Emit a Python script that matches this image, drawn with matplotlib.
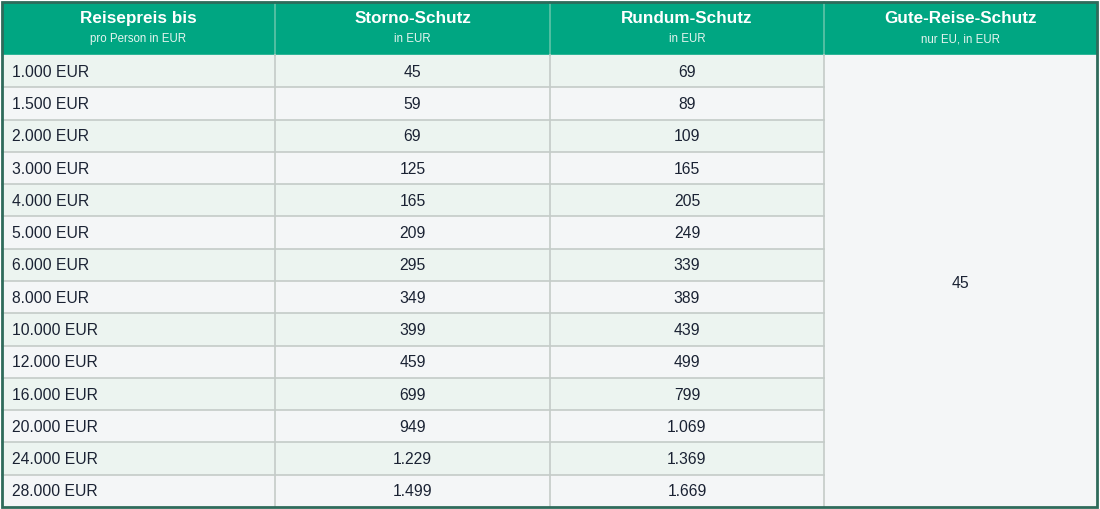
import matplotlib
matplotlib.use("Agg")
import matplotlib.pyplot as plt
from matplotlib.patches import Rectangle

headers = ["Reisepreis bis", "Storno-Schutz", "Rundum-Schutz", "Gute-Reise-Schutz"]
subheaders = ["pro Person in EUR", "in EUR", "in EUR", "nur EU, in EUR"]
preis = ["1.000 EUR","1.500 EUR","2.000 EUR","3.000 EUR","4.000 EUR","5.000 EUR","6.000 EUR",
         "8.000 EUR","10.000 EUR","12.000 EUR","16.000 EUR","20.000 EUR","24.000 EUR","28.000 EUR"]
storno = ["45","59","69","125","165","209","295","349","399","459","699","949","1.229","1.499"]
rundum = ["69","89","109","165","205","249","339","389","439","499","799","1.069","1.369","1.669"]
gute = "45"

plt.rcParams['font.family'] = ['Liberation Sans', 'DejaVu Sans']
fig = plt.figure(figsize=(11, 5.09), dpi=100)
ax = fig.add_axes([0, 0, 1, 1])
ax.set_xlim(0, 1100); ax.set_ylim(509, 0); ax.axis('off')

xs = [2, 275, 550, 824, 1097]
top, hb, bot = 2, 55, 507
n = len(preis)
rh = (bot - hb) / n
green = "#00a682"; grid = "#c4cbc8"; txt = "#1a2233"

ax.add_patch(Rectangle((xs[0], top), xs[-1]-xs[0], hb-top, color=green, zorder=1))
for i in range(n):
    y = hb + i*rh
    c = "#ecf4f0" if i % 2 == 0 else "#f4f6f7"
    ax.add_patch(Rectangle((xs[0], y), xs[3]-xs[0], rh, color=c, zorder=1))
    ax.text(12, y+rh/2+1, preis[i], ha='left', va='center', fontsize=11.3, color=txt)
    ax.text((xs[1]+xs[2])/2, y+rh/2+1, storno[i], ha='center', va='center', fontsize=11.3, color=txt)
    ax.text((xs[2]+xs[3])/2, y+rh/2+1, rundum[i], ha='center', va='center', fontsize=11.3, color=txt)
    if i > 0:
        ax.plot([xs[0], xs[3]], [y, y], color=grid, lw=1.2, zorder=2)
ax.add_patch(Rectangle((xs[3], hb), xs[4]-xs[3], bot-hb, color="#f4f6f7", zorder=1))
ax.text((xs[3]+xs[4])/2, (hb+bot)/2+3, gute, ha='center', va='center', fontsize=11.3, color=txt)
for j in range(4):
    cx = (xs[j]+xs[j+1])/2
    ax.text(cx, 18, headers[j], ha='center', va='center', fontsize=12.3, fontweight='bold', color='white')
    ax.text(cx, 39, subheaders[j], ha='center', va='center', fontsize=8.3, color='#e6f5f0')
for x in xs[1:4]:
    ax.plot([x, x], [top, hb], color="#5fc4a8", lw=1.2, zorder=2)
    ax.plot([x, x], [hb, bot], color=grid, lw=1.2, zorder=2)
ax.add_patch(Rectangle((xs[0], top), xs[-1]-xs[0], bot-top, fill=False, ec="#2f6b5b", lw=2, zorder=3))
fig.savefig("out.png", dpi=100)
